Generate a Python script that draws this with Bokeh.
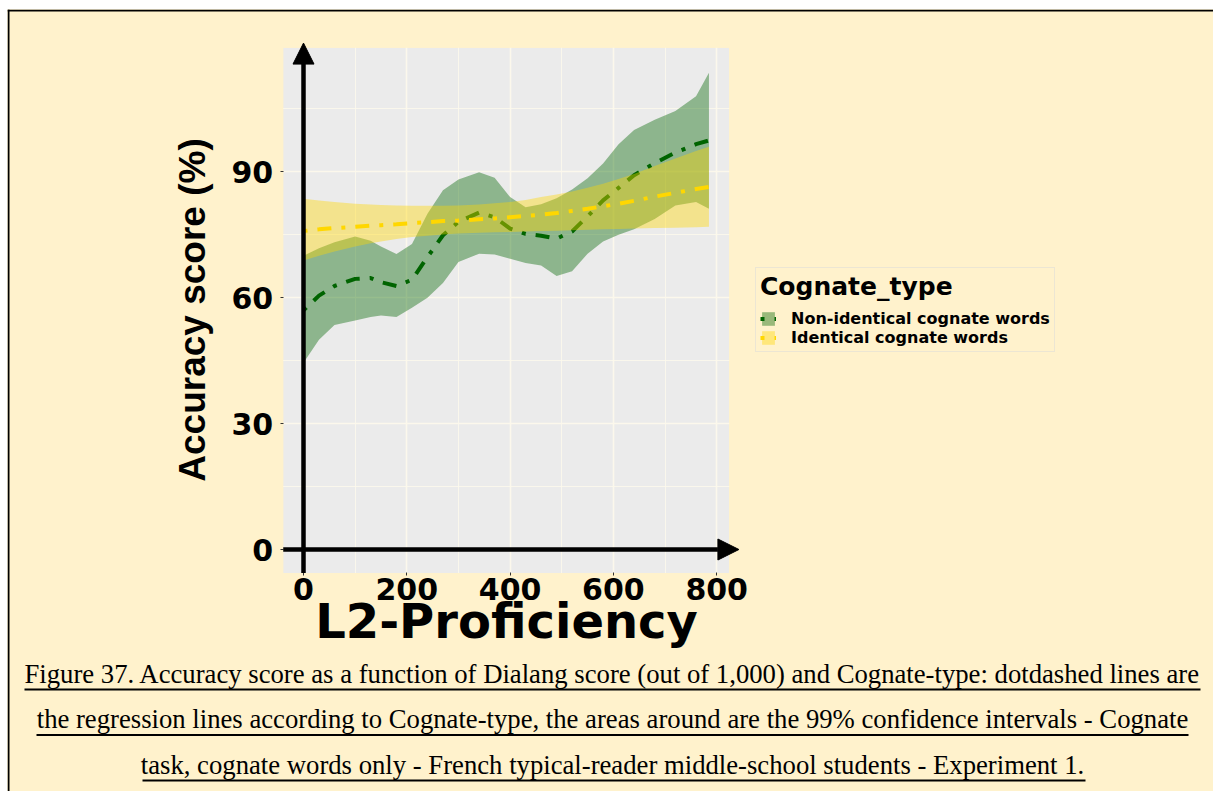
from bokeh.plotting import figure
from bokeh.models import (Range1d, FixedTicker, Arrow, NormalHead, Legend,
                          LegendItem, BoxAnnotation, Label)
from bokeh.embed import file_html
from bokeh.resources import INLINE

# ---------------- data ----------------
proficiency = [0, 30, 60, 100, 130, 150, 180, 210, 240, 270, 300, 340, 370,
               400, 430, 460, 490, 520, 550, 580, 610, 640, 680, 720, 760, 785]

nonident_fit = [57.0, 60.5, 62.8, 64.5, 64.7, 63.7, 62.8, 64.3, 69.7, 74.9,
                78.1, 80.3, 79.2, 76.5, 75.2, 74.8, 74.1, 75.8, 79.4, 83.2,
                86.2, 89.2, 92.1, 94.6, 96.6, 97.5]
nonident_hi = [70.0, 71.8, 73.2, 74.6, 73.6, 72.2, 70.4, 72.8, 80.0, 85.6,
               88.2, 89.9, 88.6, 84.0, 81.6, 82.3, 83.7, 85.8, 88.5, 92.0,
               96.6, 100.0, 102.4, 104.5, 108.0, 113.6]
nonident_lo = [44.5, 50.0, 53.5, 54.6, 55.4, 55.8, 55.4, 57.6, 60.0, 63.5,
               68.5, 70.5, 70.3, 69.3, 68.3, 67.7, 65.2, 66.3, 70.5, 73.4,
               75.0, 76.3, 78.8, 82.0, 82.8, 81.2]

ident_fit = [75.9, 76.3, 76.6, 76.9, 77.2, 77.3, 77.5, 77.8, 78.0, 78.3,
             78.4, 78.7, 78.9, 79.2, 79.5, 79.8, 80.2, 80.7, 81.2, 81.8,
             82.4, 83.1, 84.1, 85.0, 85.9, 86.4]
ident_hi = [83.6, 83.2, 82.8, 82.4, 82.2, 82.1, 82.0, 81.9, 81.9, 81.9,
            82.0, 82.2, 82.5, 82.8, 83.3, 84.0, 84.6, 85.3, 86.2, 87.2,
            88.3, 89.5, 91.4, 93.2, 95.0, 96.0]
ident_lo = [68.9, 70.0, 71.0, 72.2, 73.0, 73.4, 74.0, 74.5, 74.8, 75.1,
            75.3, 75.5, 75.6, 75.7, 75.8, 75.9, 76.0, 76.1, 76.2, 76.3,
            76.4, 76.5, 76.6, 76.7, 76.8, 76.9]

series_labels = ["Non-identical cognate words", "Identical cognate words"]
legend_title = "Cognate_type"
x_ticks = [0, 200, 400, 600, 800]
x_minor = [100, 300, 500, 700]
y_ticks = [0, 30, 60, 90]
y_minor = [15, 45, 75, 105]
x_title = "L2-Proficiency"
y_title = "Accuracy score (%)"
caption_lines = [
    "Figure 37. Accuracy score as a function of Dialang score (out of 1,000) and Cognate-type: dotdashed lines are",
    "the regression lines according to Cognate-type, the areas around are the 99% confidence intervals - Cognate",
    "task, cognate words only - French typical-reader middle-school students - Experiment 1.",
]

# ---------------- styling / layout ----------------
CREAM = "#FFF2CC"
PANEL = "#EBEBEB"
GRID = "#FCF8EC"
GREEN = "#006400"
GOLD = "#FFD700"
DASH = "4 10 14 10"

W, H = 1206, 782

# panel limits (ggplot-style expanded range) and axis-arrow tips
x_lo, x_hi = -39.25, 824.25
y_lo, y_hi = -5.6, 119.6
x_arrow_end = 843
y_arrow_end = 120.7

# whole canvas is the frame: map data to pixels
px_x, px_y = 0.5165, 4.1957          # pixels per data unit
x0_px, y0_px = 296, 540              # canvas position of the origin (from top-left)
x_range = Range1d(-x0_px / px_x, (W - x0_px) / px_x)
y_range = Range1d(-(H - y0_px) / px_y, y0_px / px_y)

p = figure(width=W, height=H, output_backend="svg", toolbar_location=None,
           x_range=x_range, y_range=y_range, min_border=0,
           margin=(9, 0, 0, 7))
p.background_fill_color = CREAM
p.border_fill_color = CREAM
p.outline_line_color = None

# page border (left and top edges)
p.add_layout(BoxAnnotation(left=0, right=2, bottom=0, top=H,
                           left_units="screen", right_units="screen",
                           bottom_units="screen", top_units="screen",
                           fill_color="black", fill_alpha=1.0, line_color=None))
p.add_layout(BoxAnnotation(left=0, right=W, bottom=H - 2, top=H,
                           left_units="screen", right_units="screen",
                           bottom_units="screen", top_units="screen",
                           fill_color="black", fill_alpha=1.0, line_color=None))

# grey panel
p.add_layout(BoxAnnotation(left=x_lo, right=x_hi, bottom=y_lo, top=y_hi,
                           fill_color=PANEL, fill_alpha=1.0, line_color=None,
                           level="image"))

# grid
p.xaxis.ticker = FixedTicker(ticks=x_ticks, minor_ticks=x_minor)
p.yaxis.ticker = FixedTicker(ticks=y_ticks, minor_ticks=y_minor)
for g in (p.xgrid, p.ygrid):
    g.grid_line_color = GRID
    g.grid_line_width = 1.6
    g.minor_grid_line_color = GRID
    g.minor_grid_line_width = 0.9

# cream cover outside the panel (keeps the grid inside the panel)
for kw in (dict(right=x_lo), dict(left=x_hi), dict(top=y_lo), dict(bottom=y_hi)):
    p.add_layout(BoxAnnotation(fill_color=CREAM, fill_alpha=1.0, line_color=None,
                               level="underlay", **kw))

# axes fixed at the panel edges
p.xaxis.fixed_location = y_lo
p.yaxis.fixed_location = x_lo
p.xaxis.bounds = (x_lo, x_hi)
p.yaxis.bounds = (y_lo, y_hi)
for ax in (p.xaxis, p.yaxis):
    ax.axis_line_color = None
    ax.major_tick_line_color = "#333333"
    ax.major_tick_out = 3
    ax.major_tick_in = 0
    ax.minor_tick_line_color = None
    ax.major_label_text_font = "DejaVu Sans"
    ax.major_label_text_font_style = "bold"
    ax.major_label_text_font_size = "30px"
    ax.major_label_text_color = "black"
    ax.axis_label_text_color = "black"
    ax.axis_label_text_font_style = "bold"

p.yaxis.major_label_standoff = 6
p.xaxis.major_label_standoff = 1
p.xaxis.axis_label = x_title
p.xaxis.axis_label_text_font = "DejaVu Sans"
p.xaxis.axis_label_text_font_size = "48px"
p.xaxis.axis_label_standoff = -10
p.yaxis.axis_label = y_title
p.yaxis.axis_label_text_font = "Liberation Sans"
p.yaxis.axis_label_text_font_size = "37px"
p.yaxis.axis_label_standoff = 16

# ribbons and lines (green group first, yellow on top)
g_band = p.varea(x=proficiency, y1=nonident_lo, y2=nonident_hi,
                 fill_color=GREEN, fill_alpha=0.4)
g_line = p.line(proficiency, nonident_fit, line_color=GREEN, line_width=4,
                line_dash=DASH)
y_band = p.varea(x=proficiency, y1=ident_lo, y2=ident_hi,
                 fill_color=GOLD, fill_alpha=0.4)
y_line = p.line(proficiency, ident_fit, line_color=GOLD, line_width=4,
                line_dash=DASH)

# axis arrows through the origin
p.add_layout(Arrow(end=NormalHead(size=21, fill_color="black", line_color="black"),
                   x_start=x_lo, y_start=0, x_end=x_arrow_end, y_end=0,
                   line_width=4.5, line_color="black"))
p.add_layout(Arrow(end=NormalHead(size=21, fill_color="black", line_color="black"),
                   x_start=0, y_start=y_lo, x_end=0, y_end=y_arrow_end,
                   line_width=4.5, line_color="black"))

# legend (screen offset from the bottom-left of the canvas)
legend = Legend(
    items=[LegendItem(label=series_labels[0], renderers=[g_band, g_line]),
           LegendItem(label=series_labels[1], renderers=[y_band, y_line])],
    location=(748, 439), title=legend_title,
    title_text_font="DejaVu Sans", title_text_font_style="bold",
    title_text_font_size="25px", title_text_color="black", title_standoff=8,
    label_text_font="DejaVu Sans", label_text_font_style="bold",
    label_text_font_size="16px", label_text_color="black",
    glyph_width=16, glyph_height=17, label_height=17, label_standoff=15,
    spacing=0, padding=4, margin=0,
    border_line_color="#D9D9D9", border_line_width=1,
    background_fill_color=CREAM, background_fill_alpha=1.0)
p.add_layout(legend)

# caption with underlines (screen units from the bottom-left of the canvas)
cap_center = 605
cap_baselines = [118, 72.3, 26.3]
underline_left = [17, 29, 135]
underline_right = [1193, 1181, 1078]
underline_bottom = [101, 55.5, 10]
for txt, yy in zip(caption_lines, cap_baselines):
    p.add_layout(Label(x=cap_center, y=yy, x_units="screen", y_units="screen",
                       text=txt, text_align="center", text_baseline="alphabetic",
                       text_font="Liberation Serif", text_font_size="26.7px",
                       text_color="black"))
for l, r, b in zip(underline_left, underline_right, underline_bottom):
    p.add_layout(BoxAnnotation(left=l, right=r, bottom=b, top=b + 2,
                               left_units="screen", right_units="screen",
                               bottom_units="screen", top_units="screen",
                               fill_color="black", fill_alpha=1.0,
                               line_color=None))

open("out.html", "w").write(file_html(p, INLINE))
